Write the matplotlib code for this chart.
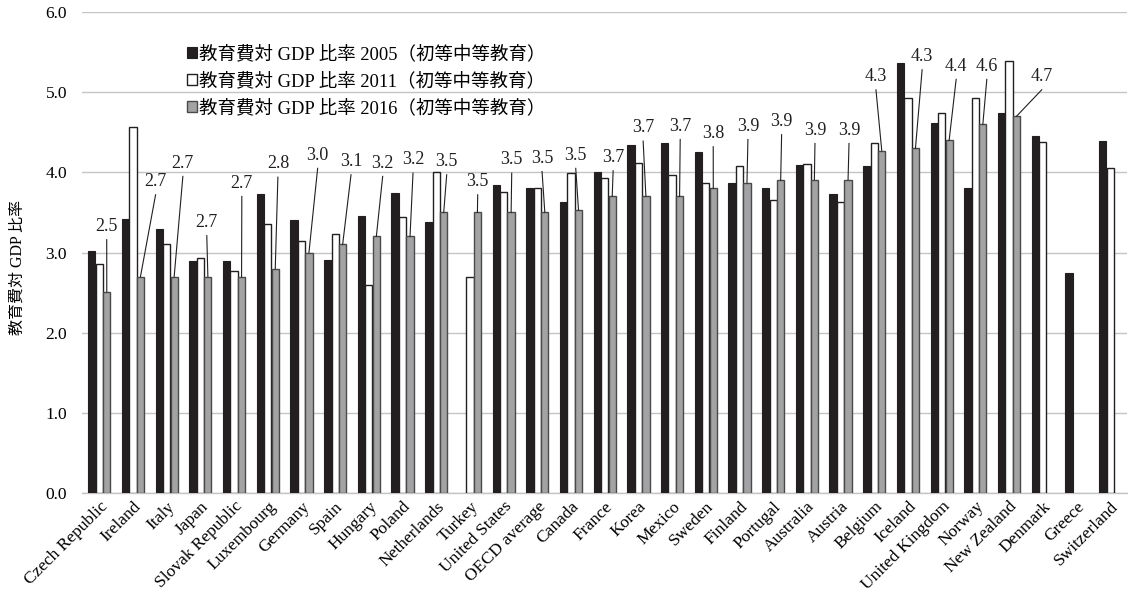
import numpy as np
import matplotlib
matplotlib.use("Agg")
import matplotlib.pyplot as plt

countries = ["Czech Republic", "Ireland", "Italy", "Japan", "Slovak Republic", "Luxembourg",
             "Germany", "Spain", "Hungary", "Poland", "Netherlands", "Turkey", "United States",
             "OECD average", "Canada", "France", "Korea", "Mexico", "Sweden", "Finland",
             "Portugal", "Australia", "Austria", "Belgium", "Iceland", "United Kingdom",
             "Norway", "New Zealand", "Denmark", "Greece", "Switzerland"]

nan = np.nan
v2005 = [3.02, 3.42, 3.29, 2.89, 2.90, 3.73, 3.40, 2.91, 3.45, 3.74, 3.38, nan, 3.84,
         3.80, 3.63, 4.01, 4.34, 4.37, 4.25, 3.87, 3.80, 4.09, 3.73, 4.08, 5.36, 4.61,
         3.81, 4.74, 4.45, 2.74, 4.39]
v2011 = [2.86, 4.57, 3.10, 2.93, 2.77, 3.35, 3.14, 3.23, 2.59, 3.44, 4.01, 2.70, 3.75,
         3.80, 3.99, 3.93, 4.12, 3.97, 3.87, 4.08, 3.66, 4.10, 3.63, 4.37, 4.93, 4.74,
         4.93, 5.39, 4.38, nan, 4.05]
v2016 = [2.51, 2.70, 2.70, 2.70, 2.70, 2.80, 3.00, 3.10, 3.20, 3.20, 3.50, 3.50, 3.50,
         3.50, 3.53, 3.70, 3.70, 3.70, 3.80, 3.87, 3.90, 3.91, 3.91, 4.27, 4.30, 4.40,
         4.60, 4.70, nan, nan, nan]
labels2016 = ["2.5", "2.7", "2.7", "2.7", "2.7", "2.8", "3.0", "3.1", "3.2", "3.2", "3.5",
              "3.5", "3.5", "3.5", "3.5", "3.7", "3.7", "3.7", "3.8", "3.9", "3.9", "3.9",
              "3.9", "4.3", "4.3", "4.4", "4.6", "4.7"]
series_names = ["教育費対 GDP 比率 2005（初等中等教育）",
                "教育費対 GDP 比率 2011（初等中等教育）",
                "教育費対 GDP 比率 2016（初等中等教育）"]
ylabel = "教育費対 GDP 比率"

# label placement (layout): label centre x (category units) and text bottom (value units)
lab_x = [0.22, 1.67, 2.48, 3.19, 4.23, 5.30, 6.48, 7.47, 8.41, 9.31, 10.31, 11.23, 12.24,
         13.14, 14.14, 15.25, 16.14, 17.24, 18.22, 19.25, 20.25, 21.24, 22.25, 23.05,
         24.42, 25.43, 26.34, 27.97]
lab_y = [3.22, 3.78, 4.01, 3.27, 3.76, 4.00, 4.11, 4.03, 4.01, 4.05, 4.03, 3.78, 4.05,
         4.07, 4.11, 4.08, 4.45, 4.47, 4.38, 4.47, 4.53, 4.42, 4.42, 5.09, 5.34, 5.22,
         5.22, 5.09]

serif = ["Liberation Serif", "Noto Sans CJK JP", "DejaVu Sans"]
plt.rcParams["font.family"] = serif

fig = plt.figure(figsize=(11.28, 6.07), dpi=100)
ax = fig.add_axes([0.0731, 0.1878, 0.926, 0.7924])

n = len(countries)
x = np.arange(n)
w = 0.215
off = 0.222
ax.bar(x - off, v2005, w, color="#231f20", edgecolor="#231f20", linewidth=0.8,
       label=series_names[0], zorder=3)
ax.bar(x, v2011, w, color="white", edgecolor="#231f20", linewidth=1.0,
       label=series_names[1], zorder=3)
ax.bar(x + off, v2016, w, color="#a3a3a5", edgecolor="#4a4a4a", linewidth=1.0,
       label=series_names[2], zorder=3)

gap = 0.06
for i, t in enumerate(labels2016):
    gx = i + off
    gy = v2016[i]
    ax.plot([gx, lab_x[i]], [gy, lab_y[i] - gap], color="#231f20", linewidth=0.8, zorder=4)
    ax.text(lab_x[i], lab_y[i], t, ha="center", va="bottom", fontsize=13,
            color="#231f20", zorder=5)

ax.set_xlim(-0.5, n - 0.5)
ax.set_ylim(0, 6.0)
ax.set_yticks(np.arange(0, 6.01, 1.0))
ax.set_yticklabels([f"{v:.1f}" for v in np.arange(0, 6.01, 1.0)], fontsize=12.5)
ax.yaxis.grid(True, color="#c4c4c4", linewidth=1.0, zorder=0)
ax.set_axisbelow(True)
for s in ["top", "right", "left"]:
    ax.spines[s].set_visible(False)
ax.spines["bottom"].set_color("#c4c4c4")
ax.spines["bottom"].set_linewidth(1.0)
ax.tick_params(axis="both", length=0)
ax.tick_params(axis="y", pad=11)
ax.set_xticks(x)
ax.set_xticklabels(countries, rotation=45, ha="right", rotation_mode="anchor", fontsize=12.5)
ax.tick_params(axis="x", pad=4)
ax.set_ylabel(ylabel, fontsize=11.5)
ax.yaxis.set_label_coords(-0.054, 0.468)

leg = ax.legend(loc="upper left", bbox_to_anchor=(0.093, 0.946), frameon=False,
                fontsize=13.3, handlelength=0.55, handleheight=0.55, handletextpad=0.12,
                labelspacing=0.5, borderaxespad=0)

fig.savefig("out.png", dpi=100, facecolor="white")
